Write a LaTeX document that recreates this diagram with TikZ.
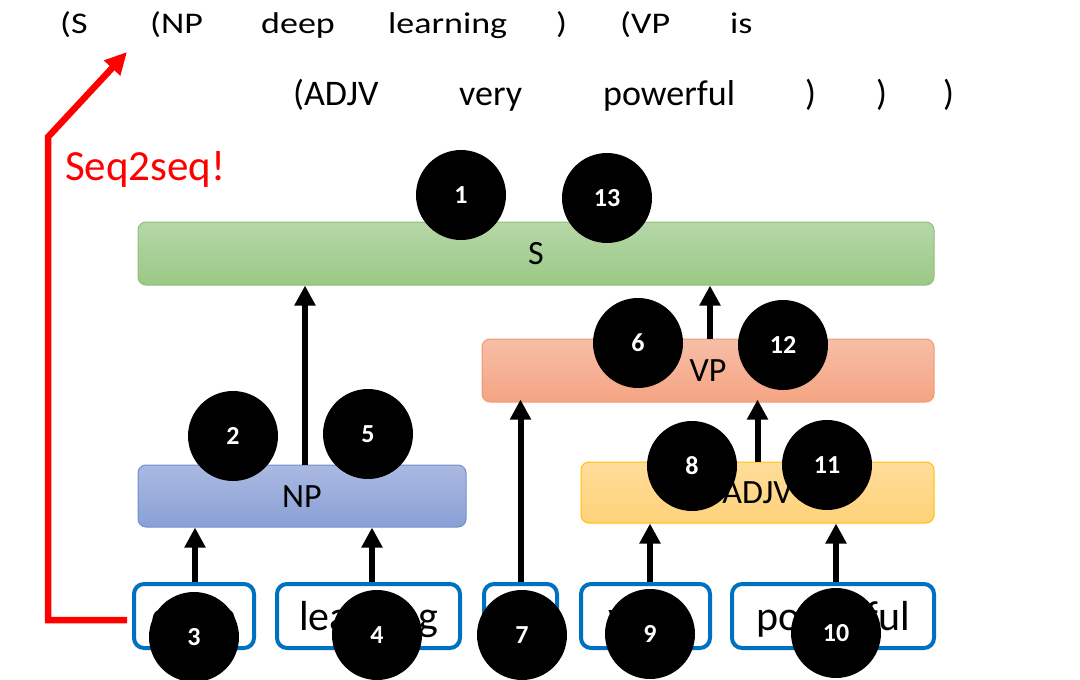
\documentclass[tikz,border=0pt]{standalone}
\usepackage{fontspec}
\usepackage{graphicx}
\setmainfont{Carlito}
\usetikzlibrary{arrows.meta}
\definecolor{sTop}{HTML}{B6D7A8}
\definecolor{sBot}{HTML}{9BC985}
\definecolor{sBrd}{HTML}{8CBF78}
\definecolor{vTop}{HTML}{F7BEA8}
\definecolor{vBot}{HTML}{F4A482}
\definecolor{vBrd}{HTML}{F09A72}
\definecolor{nTop}{HTML}{AAB9E1}
\definecolor{nBot}{HTML}{8AA0D6}
\definecolor{nBrd}{HTML}{7090CC}
\definecolor{aTop}{HTML}{FFDD9A}
\definecolor{aBot}{HTML}{FFD27A}
\definecolor{aBrd}{HTML}{FFC000}
\definecolor{wBrd}{HTML}{0070C0}
\definecolor{myred}{HTML}{FF0000}
\begin{document}
\begin{tikzpicture}[x=1pt,y=-1pt,
  phrase/.style={draw, line width=1pt, rounded corners=8pt, inner sep=0pt,
    font=\fontsize{34}{40}\selectfont, text height=22pt, text depth=0pt},
  wordbox/.style={draw=wBrd, line width=4pt, rounded corners=10pt, fill=white,
    inner sep=0pt, minimum height=64pt,
    font=\fontsize{42}{50}\selectfont, text height=28pt, text depth=0pt},
  num/.style={circle, fill=black, minimum size=90pt, inner sep=0pt,
    text=white, font=\fontsize{26}{30}\selectfont\bfseries},
  arr/.style={line width=6pt, -{Triangle[length=20pt,width=20pt]}},
  redarr/.style={draw=myred, line width=6.5pt, line join=miter,
    -{Triangle[length=22pt,width=21pt]}},
  toptxt/.style={anchor=base west, inner sep=0pt, font=\fontsize{30}{36}\selectfont},
  sectxt/.style={anchor=base west, inner sep=0pt, font=\fontsize{36}{42}\selectfont}
]
\useasboundingbox (0,0) rectangle (1080,680);

% top bracketed text
\node[toptxt] (r1a) at (60,33) {\scalebox{1.2}[1]{(S}};
\node[toptxt] (r1b) at (150,33) {\scalebox{1.2}[1]{(NP}};
\node[toptxt] (r1c) at (261,33) {\scalebox{1.2}[1]{deep}};
\node[toptxt] (r1d) at (388,33) {\scalebox{1.2}[1]{learning}};
\node[toptxt] (r1e) at (556,33) {\scalebox{1.2}[1]{)}};
\node[toptxt] (r1f) at (620,33) {\scalebox{1.2}[1]{(VP}};
\node[toptxt] (r1g) at (730,33) {\scalebox{1.2}[1]{is}};

\node[sectxt] (r2a) at (293,105) {(ADJV};
\node[sectxt] (r2b) at (459,105) {very};
\node[sectxt] (r2c) at (603,105) {powerful};
\node[sectxt] (r2d) at (805,105) {)};
\node[sectxt] (r2e) at (876,105) {)};
\node[sectxt] (r2f) at (943,105) {)};

\node[anchor=base west, inner sep=0pt, text=myred, font=\fontsize{43}{50}\selectfont] (seq) at (65,180) {Seq2seq!};

% phrase boxes
\node[phrase, draw=sBrd, top color=sTop, bottom color=sBot, minimum width=796pt, minimum height=63pt] (S) at (536,253.5) {S};
\node[phrase, draw=vBrd, top color=vTop, bottom color=vBot, minimum width=452pt, minimum height=63pt] (VP) at (708,370.5) {VP};
\node[phrase, draw=nBrd, top color=nTop, bottom color=nBot, minimum width=328pt, minimum height=62pt] (NP) at (302,496) {NP};
\node[phrase, draw=aBrd, top color=aTop, bottom color=aBot, minimum width=353pt, minimum height=61pt] (ADJV) at (757.5,492.5) {ADJV};

% word boxes
\node[wordbox, minimum width=120pt] (deep) at (194,616) {deep};
\node[wordbox, minimum width=183pt] (learning) at (368.5,616) {learning};
\node[wordbox, minimum width=73pt] (is) at (520.5,616) {is};
\node[wordbox, minimum width=129pt] (very) at (645.5,616) {very};
\node[wordbox, minimum width=202pt] (powerful) at (833,616) {powerful};

% arrows
\draw[arr] ([xshift=1pt]deep.north) -- ([xshift=1pt]deep.north |- NP.south);
\draw[arr] ([xshift=3.5pt]learning.north) -- ([xshift=3.5pt]learning.north |- NP.south);
\draw[arr] (is.north) -- ([yshift=3pt]is.north |- VP.south);
\draw[arr] ([xshift=4.5pt]very.north) -- ([xshift=4.5pt]very.north |- ADJV.south);
\draw[arr] ([xshift=3pt]powerful.north) -- ([xshift=3pt]powerful.north |- ADJV.south);
\draw[arr] ([xshift=3pt]NP.north) -- ([xshift=3pt]NP.north |- S.south);
\draw[arr] (ADJV.north) -- ([yshift=3pt]ADJV.north |- VP.south);
\draw[arr] ([xshift=2pt]VP.north) -- ([xshift=2pt]VP.north |- S.south);

% red seq2seq arrow
\coordinate (rstart) at ([shift={(-5pt,-4pt)}]deep.west);
\coordinate (rtip) at (127,52);
\draw[redarr] (rstart) -- (48,620) -- (48,137) -- (rtip);

% numbered circles
\node[num] (c1) at (461,195) {1};
\node[num] (c13) at (607,198) {13};
\node[num] (c6) at (638,343) {6};
\node[num] (c12) at (783,345) {12};
\node[num] (c2) at (233,436) {2};
\node[num] (c5) at (368,434) {5};
\node[num] (c8) at (692,466) {8};
\node[num] (c11) at (827,465) {11};
\node[num] (c3) at (194,637) {3};
\node[num] (c4) at (377,635) {4};
\node[num] (c7) at (522,635) {7};
\node[num] (c9) at (650,634) {9};
\node[num] (c10) at (836,633) {10};
\end{tikzpicture}
\end{document}
